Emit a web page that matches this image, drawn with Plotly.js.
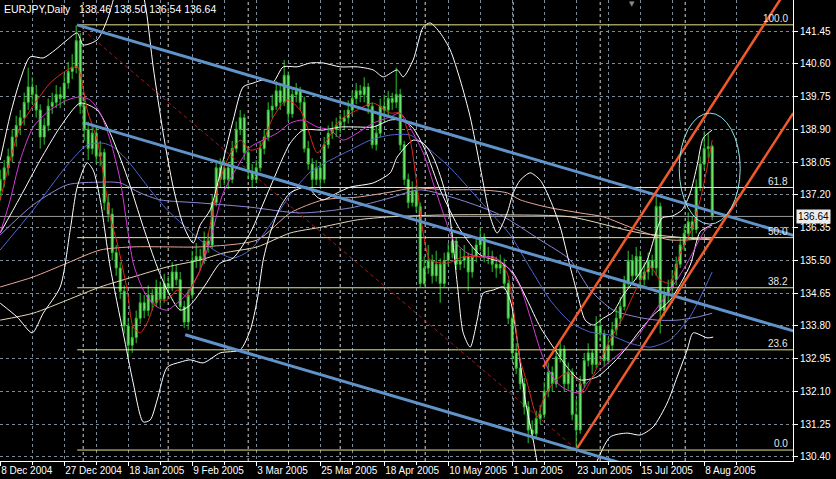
<!DOCTYPE html>
<html><head><meta charset="utf-8">
<script src="https://cdn.plot.ly/plotly-3.0.1.min.js"></script>
<style>html,body{margin:0;padding:0;background:#000;overflow:hidden}#chart{width:836px;height:479px;}</style>
</head><body><div id="chart"></div>
<script>
// ---------- data ----------
const symbolTitle = 'EURJPY,Daily';
const dateLabels = ['8 Dec 2004','27 Dec 2004','18 Jan 2005','9 Feb 2005','3 Mar 2005','25 Mar 2005','18 Apr 2005','10 May 2005','1 Jun 2005','23 Jun 2005','15 Jul 2005','8 Aug 2005'];
const dateLabelBars = [0,16,32,48,64,80,96,112,128,144,160,176];
const priceTicks = [141.45,140.60,139.75,138.90,138.05,137.20,136.35,135.50,134.65,133.80,132.95,132.10,131.25,130.40];
const monthStartBars = [20.75,42,62,85,106.25,128.25,150,171.25];

const openP = [137.30,137.60,137.90,138.20,138.70,139.00,139.20,139.60,140.00,139.80,139.40,138.70,139.00,139.50,139.60,139.80,139.70,140.10,140.40,140.50,
141.20,139.50,138.90,138.40,138.80,138.20,138.30,137.00,136.70,135.70,135.30,134.70,133.80,133.30,133.50,134.00,134.40,134.20,134.60,134.40,
134.80,134.50,134.90,134.80,135.20,135.00,134.30,133.90,134.60,135.50,135.60,135.50,136.00,135.90,137.00,137.90,137.60,137.90,137.60,138.40,
138.90,139.20,138.30,137.80,137.60,137.90,138.40,138.70,139.40,139.50,139.90,139.60,140.30,139.30,139.80,139.90,139.60,138.40,138.00,137.60,
137.90,137.60,138.50,138.80,138.90,139.00,139.10,139.20,139.40,139.70,139.90,139.80,140.00,139.50,138.50,138.80,139.50,139.40,139.70,139.60,
139.80,138.50,137.60,137.00,137.30,136.90,134.90,135.30,135.50,135.10,135.40,134.90,135.50,135.70,136.00,135.40,135.50,135.60,135.20,135.60,
135.90,136.10,135.60,135.60,135.40,135.30,135.40,134.90,134.00,133.10,132.70,132.30,131.70,131.10,131.00,131.40,131.50,132.10,132.60,132.30,
133.00,133.20,132.30,132.60,131.50,131.10,132.30,132.90,133.10,132.80,133.80,133.60,132.90,133.30,133.70,134.00,134.30,134.90,135.50,135.10,
135.60,135.00,135.20,135.50,135.30,136.90,134.20,134.60,134.80,135.00,135.40,135.90,136.20,136.50,136.30,137.40,138.00,138.40,138.46];
const highP = [137.85,138.10,138.40,138.90,139.25,139.40,139.85,140.50,140.25,140.05,139.55,139.20,139.70,139.85,140.05,140.00,140.35,140.65,140.85,141.60,
141.40,139.75,139.10,139.05,138.95,138.60,138.40,137.20,136.85,135.90,135.45,134.85,134.00,133.80,134.20,134.65,134.60,134.85,134.75,135.00,
134.95,135.15,135.10,135.45,135.40,135.20,134.45,134.75,135.75,135.95,135.80,136.25,136.20,137.20,138.10,138.15,138.10,138.05,138.60,139.10,
139.40,139.30,138.45,138.00,138.10,138.60,138.90,139.60,139.80,140.15,140.05,140.70,140.40,139.95,140.10,140.00,139.75,138.60,138.15,138.10,
138.05,138.70,139.00,139.10,139.20,139.30,139.40,139.65,139.90,140.10,140.05,140.25,140.10,139.60,139.00,139.70,139.80,139.90,139.85,140.50,
139.95,138.60,137.75,137.55,137.45,137.00,135.60,135.90,135.65,135.75,135.55,135.70,135.95,136.30,136.10,135.80,135.90,135.70,135.85,136.10,
136.35,136.20,135.85,135.75,135.60,135.65,135.55,135.00,134.10,133.35,132.95,132.45,131.85,131.35,131.60,131.75,132.35,132.85,132.75,133.25,
133.45,133.30,132.85,132.70,131.90,132.50,133.10,133.35,133.20,134.05,134.00,133.70,133.50,133.90,134.25,134.55,135.10,135.75,135.65,135.85,
135.75,135.45,135.70,135.65,137.15,137.00,134.80,135.00,135.25,135.60,136.10,136.40,136.75,136.65,137.60,138.20,138.85,138.80,138.50];
const lowP = [137.05,137.40,137.70,138.05,138.45,138.75,139.00,139.40,139.55,139.20,138.40,138.50,138.85,139.30,139.45,139.45,139.55,139.95,140.20,140.35,
139.30,138.60,138.10,138.25,138.00,137.95,136.80,136.50,135.50,135.10,134.50,133.60,132.97,133.10,133.35,133.85,134.00,134.05,134.20,134.30,
134.30,134.40,134.60,134.70,134.85,134.20,133.75,133.70,134.50,135.30,135.25,135.40,135.70,135.80,136.90,137.40,137.45,137.35,137.50,138.30,
138.75,138.10,137.60,137.40,137.50,137.80,138.25,138.60,139.20,139.40,139.40,139.50,139.10,139.20,139.60,139.40,138.30,137.85,137.30,137.45,
137.40,137.50,138.40,138.65,138.70,138.80,138.90,139.05,139.25,139.55,139.60,139.60,139.30,138.40,138.35,138.70,139.10,139.25,139.40,139.45,
138.35,137.45,136.85,136.90,136.75,134.80,134.85,135.15,134.90,134.95,134.40,134.80,135.35,135.55,135.25,135.25,135.30,134.70,135.05,135.45,
135.75,135.45,135.40,135.20,135.05,135.15,134.75,133.85,132.90,132.55,132.15,131.50,130.76,130.85,130.90,131.25,131.40,131.95,132.10,132.20,
132.85,132.10,132.15,131.35,130.58,131.00,132.20,132.75,132.55,132.70,133.40,132.75,132.80,133.15,133.55,133.85,134.20,134.80,134.90,135.00,
134.80,134.85,135.00,135.10,135.10,133.60,134.05,134.40,134.60,134.85,135.30,135.75,136.05,136.05,136.20,137.30,137.85,138.15,136.54];
const closeP = [137.60,137.90,138.20,138.70,139.00,139.20,139.60,140.00,139.80,139.40,138.70,139.00,139.50,139.60,139.80,139.70,140.10,140.40,140.50,141.20,
139.50,138.90,138.40,138.80,138.20,138.30,137.00,136.70,135.70,135.30,134.70,133.80,133.30,133.50,134.00,134.40,134.20,134.60,134.40,134.80,
134.50,134.90,134.80,135.20,135.00,134.30,133.90,134.60,135.50,135.60,135.50,136.00,135.90,137.00,137.90,137.60,137.90,137.60,138.40,138.90,
139.20,138.30,137.80,137.60,137.90,138.40,138.70,139.40,139.50,139.90,139.60,140.30,139.30,139.80,139.90,139.60,138.40,138.00,137.60,137.90,
137.60,138.50,138.80,138.90,139.00,139.10,139.20,139.40,139.70,139.90,139.80,140.00,139.50,138.50,138.80,139.50,139.40,139.70,139.60,139.80,
138.50,137.60,137.00,137.30,136.90,134.90,135.30,135.50,135.10,135.40,134.90,135.50,135.70,136.00,135.40,135.50,135.60,135.20,135.60,135.90,
136.10,135.60,135.60,135.40,135.30,135.40,134.90,134.00,133.10,132.70,132.30,131.70,131.10,131.00,131.40,131.50,132.10,132.60,132.30,133.00,
133.20,132.30,132.60,131.50,131.10,132.30,132.90,133.10,132.80,133.80,133.60,132.90,133.30,133.70,134.00,134.30,134.90,135.50,135.10,135.60,
135.00,135.20,135.50,135.30,136.90,134.20,134.60,134.80,135.00,135.40,135.90,136.20,136.50,136.30,137.40,138.00,138.40,138.45,136.64];

// indicator lines (bar position, price)
const redMaX = [0,2.5,5,9.25,12.5,16.75,19.25,20.5,21.75,24.25,25.75,27.5,29.25,31.75,33.25,35,36.75,39.25,41.75,44.25,46.75,47.5,50,52.5,54.25,56.75,60,62.5,65,68.25,71.75,75,76.75,79.25,81.75,85,89.25,93.25,97.5,100,102.5,104.25,105.75,107.5,111.75,115.75,120,124.25,126.75,128.25,130,131.75,134.25,135.75,138.25,141.75,145,145.75,149.25,152.5,155.75,159.25,162.5,165,167.5,170,172.5,175,176.75,178];
const redMaY = [137.07,138.10,138.96,139.66,140.10,140.44,140.52,140.10,139.40,138.62,137.77,136.63,135.95,134.73,133.77,133.62,133.88,134.47,134.47,134.73,134.55,134.73,135.25,136.42,137.33,138.10,138.62,138.36,138.44,139.22,139.66,139.40,138.96,138.29,138.62,139.14,139.40,139.58,139.32,139.32,138.62,137.40,136.21,135.51,135.43,135.59,135.59,135.51,135.17,134.29,132.92,132.32,131.44,131.88,132.32,132.58,132.32,132.06,132.73,133.44,134.03,134.81,135.33,134.99,134.91,135.69,136.21,137.07,137.92,138.62];
const magentaMaX = [0,2.5,5,8.25,12.5,16.75,20,22.5,25,27.5,30,31.75,33.25,35,36.75,39.25,41.75,44.25,46.75,50,52.5,55.75,59.25,62.5,65.75,69.25,72.5,75.75,79.25,82.5,85.75,89.25,93.25,97.5,100,103.25,105.75,108.25,110.75,113.25,116.75,120,123.25,126.75,130,132.5,135,136.75,139.25,141.75,145,146.75,150.75,155,159.25,163.25,167.5,171.75,175.75,178];
const magentaMaY = [136.21,137.07,138.10,138.96,139.40,139.66,139.74,139.66,139.32,138.62,137.58,136.37,135.43,134.91,134.55,134.29,134.21,134.39,134.65,135.25,136.03,137.25,137.92,138.44,138.62,138.80,139.06,139.14,138.96,138.88,138.62,138.80,139.06,139.22,139.32,138.80,138.29,137.51,136.73,136.03,135.69,135.59,135.59,135.33,134.81,134.03,133.18,132.73,132.32,132.14,132.06,132.32,132.73,133.10,133.51,134.13,134.73,135.43,136.21,136.47];
const blueMaX = [0,8.25,16.75,21.75,25.75,28.25,31.75,37.5,41.75,45.75,50,54.25,58.25,62.5,67.5,72.5,77.5,82.5,87.5,92.5,97.5,102.5,107.5,112.5,117.5,122.5,127.5,132.5,137.5,142.5,147.5,152.5,157.5,162.5,167.5,172.5,178];
const blueMaY = [135.77,136.81,137.97,138.49,138.54,138.44,138.10,137.33,136.81,136.42,136.03,135.72,135.56,135.77,136.42,137.20,137.79,138.10,138.36,138.62,138.75,138.75,138.36,137.90,137.33,136.75,136.16,135.30,134.47,133.90,133.64,133.56,133.35,133.25,133.44,134.05,135.20];
const violetMaX = [0,8.25,16.75,25,30,35,40,50,62.5,75,87.5,97.5,105,115,125,135,142.5,147.5,153.25,159.25,164.25,169.25,174.25,178];
const violetMaY = [136.16,136.94,137.46,137.53,137.51,137.25,137.07,136.99,136.88,136.73,136.86,137.12,137.33,137.07,136.68,136.03,135.51,134.73,134.21,134.03,133.95,133.95,134.03,134.13];
const pinkMaX = [0,8.25,16.75,25,33.25,41.75,50,64.25,72.5,80.75,89.25,97.5,103.25,111.75,120,126.75,130,136.75,145,150.75,159.25,167.5,178];
const pinkMaY = [134.81,135.07,135.43,135.77,135.85,135.85,135.85,136.03,136.73,137.07,137.14,137.27,137.38,137.33,137.33,137.25,137.07,136.88,136.73,136.63,136.29,136.03,136.08];
const tanMaX = [0,8.25,16.75,25,33.25,41.75,50,55.75,64.25,72.5,80.75,89.25,97.5,111.75,127.5,142.5,160,178];
const tanMaY = [133.95,134.13,134.47,134.81,135.07,135.33,135.51,135.69,135.85,136.21,136.37,136.55,136.63,136.68,136.68,136.63,136.21,136.03];

const bbUpperX = [0,2.5,5,7.5,10.75,13.75,16.75,19.25,20.75,24.25,26.75,28.25,30,33,35,36.5,38.25,40.75,43.25,45.75,48.25,50,52.5,55.75,58.25,60.75,63.25,65.75,68.25,70.75,74.25,77.5,80.75,85,89.25,93.25,95.75,99.25,100.75,103.25,105.75,107.5,110,112.5,115,117.5,120,122.5,124.25,126.75,128.25,130,132.5,135,137.5,140,142.5,144.25,146.25,148.25,150.75,153.25,155.75,159.25,161.75,163.75,165.5,168,170.5,172.5,174.25,175.75,178];
const bbUpperY = [138.10,139.27,140.18,140.78,140.75,140.96,141.22,141.40,141.09,141.22,141.74,142.25,143.03,143.42,142.77,141.99,140.52,138.80,137.40,136.42,135.95,136.42,136.81,138.10,139.14,140.00,140.10,140.18,140.13,140.52,140.52,140.62,140.62,140.52,140.52,140.44,140.26,140.44,140.26,140.70,141.55,141.66,141.40,140.96,140.18,139.22,137.92,136.63,136.21,136.73,137.25,137.58,137.77,137.58,137.07,136.37,135.33,134.65,133.95,133.82,134.00,134.16,134.60,135.07,135.51,136.16,136.60,136.65,136.81,137.25,137.97,138.67,138.88];
const bbMidX = [0,5,10,15,20,24.25,27.5,31.75,35.75,39.25,41.75,45,47.5,51.25,55,58.25,62.5,67.5,72.5,75.75,80.75,85,89.25,93.25,97.5,100,103,106.25,110,115,120,125,128.25,131.75,135,138.25,141.75,145,149.25,153.25,156.75,160,163.25,167.5,172.5,175,178];
const bbMidY = [136.21,137.14,138.10,138.96,139.58,139.40,138.80,137.66,136.37,135.33,134.73,134.21,134.34,134.86,135.43,135.56,136.21,137.40,138.54,138.88,138.88,138.96,138.96,138.96,139.14,139.14,138.96,138.36,137.33,136.29,135.64,135.46,135.17,134.47,133.77,133.25,132.73,132.40,132.48,132.84,133.25,133.69,134.08,134.47,135.38,136.24,136.42];
const bbLowerX = [0,4.25,8,10.75,15,17.5,19.25,21.75,23.25,25,27.5,30.75,33.25,35.75,37.5,39.25,41.75,45,47.5,50.75,55,60,62.5,64.25,65.75,67.5,70,72.5,76.75,79.25,80.75,84.25,87.5,93.25,97.5,99.25,103.25,105.75,108.25,111.75,114.25,115.75,117.5,119.25,120.75,123.25,125.75,127.5,129.25,131.25,133.25,135,140,145,148.75,152.5,156.75,160,163.25,166.75,169.25,171.75,173.25,176.75,178.25];
const bbLowerY = [134.39,134.03,133.62,134.13,134.81,136.29,137.40,138.03,137.84,137.07,135.33,133.62,132.32,131.31,131.36,131.88,132.73,132.86,132.92,132.84,133.10,133.18,133.69,134.47,135.51,136.21,136.88,137.25,137.40,137.14,137.07,137.25,137.40,137.51,137.77,138.18,138.62,138.54,138.18,137.07,134.91,133.62,133.25,133.95,134.65,134.73,134.81,134.47,133.44,131.88,130.84,129.93,128.77,129.29,130.19,130.92,131.02,130.97,131.18,131.80,132.48,133.18,133.62,133.49,133.51];

// drawn objects (trend channels, fibonacci, ellipse)
const channelTopX = [19.25,198.25], channelTopY = [141.61,136.15];
const channelMidX = [21.25,198.25], channelMidY = [139.06,133.67];
const channelLowX = [46.25,155], channelLowY = [133.57,130.25];
const upChanTopX = [135.75,198.25], upChanTopY = [132.73,142.79];
const upChanLowX = [144.25,198.25], upChanLowY = [130.63,139.32];
const fibBaseX = [19.25,144.25], fibBaseY = [141.61,130.58];
const fibLabels = ['0.0','23.6','38.2','50.0','61.8','100.0'];
const fibPrices = [130.58,133.18,134.79,136.09,137.39,141.61];
const fibStartBar = 19.25;
const ellipseX = [169.75,185], ellipseY = [136.44,139.32];
const shiftMarkBar = 158;

// ---------- build ----------
const bars = openP.map((_, i) => i);
const last = closeP.length - 1;
const xStart = -0.05, xEnd = 198.2;
const FONT = 'Liberation Sans, Arial, sans-serif';

function line(x, y, color, width, extra) {
  return Object.assign({type:'scatter', mode:'lines', x:x, y:y, hoverinfo:'skip',
    line:{color:color, width:width}}, extra || {});
}
function smooth(x, y, color) {
  return {type:'scatter', mode:'lines', x:x, y:y, hoverinfo:'skip',
    line:{color:color, width:1, shape:'spline', smoothing:0.7}};
}
const traces = [];
fibPrices.forEach(p => traces.push(line([fibStartBar, xEnd + 2], [p, p], '#e6e68a', 1)));
traces.push(line([xStart, xEnd + 2], [closeP[last], closeP[last]], '#9a9a9a', 1));
traces.push(line(fibBaseX, fibBaseY, '#a01818', 1, {line:{color:'#a01818', width:1, dash:'4px,3px'}}));
traces.push(smooth(tanMaX, tanMaY, '#e6d8b4'));
traces.push(smooth(pinkMaX, pinkMaY, '#e7a898'));
traces.push(smooth(violetMaX, violetMaY, '#8c86d8'));
traces.push(smooth(blueMaX, blueMaY, '#4f66d6'));
traces.push(smooth(bbUpperX, bbUpperY, '#ffffff'));
traces.push(smooth(bbMidX, bbMidY, '#ffffff'));
traces.push(smooth(bbLowerX, bbLowerY, '#ffffff'));
traces.push(smooth(magentaMaX, magentaMaY, '#d838d8'));
traces.push(smooth(redMaX, redMaY, '#e02a1a'));
traces.push({type:'candlestick', x:bars, open:openP, high:highP, low:lowP, close:closeP,
  increasing:{line:{color:'#2ec42e', width:1}, fillcolor:'#86f486'},
  decreasing:{line:{color:'#2ec42e', width:1}, fillcolor:'#86f486'},
  whiskerwidth:0, hoverinfo:'skip', showlegend:false});
traces.push(line(channelTopX, channelTopY, '#5f93c9', 3));
traces.push(line(channelMidX, channelMidY, '#5f93c9', 3));
traces.push(line(channelLowX, channelLowY, '#5f93c9', 3));
traces.push(line(upChanTopX, upChanTopY, '#f05a2a', 2.5));
traces.push(line(upChanLowX, upChanLowY, '#f05a2a', 2.5));

const shapes = monthStartBars.map(b => ({type:'line', xref:'x', yref:'paper', x0:b, x1:b, y0:0, y1:1,
  line:{color:'#d4d4d4', width:1, dash:'3px,3px'}, layer:'below'}));
shapes.push({type:'circle', xref:'x', yref:'y', x0:ellipseX[0], x1:ellipseX[1], y0:ellipseY[0], y1:ellipseY[1],
  line:{color:'#8ee6e6', width:1}, layer:'above'});

const annotations = fibLabels.map((t, k) => ({xref:'x', yref:'y', x:197.5, y:fibPrices[k], text:t,
  xanchor:'right', yanchor:'bottom', showarrow:false, yshift:-1, font:{family:FONT, size:10, color:'#e8e8e8'}}));
const nb = '\u00a0';
annotations.push({xref:'paper', yref:'paper', x:0, y:1, xanchor:'left', yanchor:'top', xshift:2, yshift:-1, showarrow:false,
  text: symbolTitle + nb+nb+nb + [openP[last], highP[last], lowP[last], closeP[last]].map(v => v.toFixed(2)).join(nb),
  font:{family:FONT, size:10.5, color:'#ffffff'}});
annotations.push({xref:'paper', yref:'y', x:1, y:closeP[last], xanchor:'left', yanchor:'middle', xshift:3, showarrow:false,
  text:closeP[last].toFixed(2), bgcolor:'#ececec', borderpad:1, font:{family:FONT, size:10, color:'#000000'}});
annotations.push({xref:'x', yref:'paper', x:shiftMarkBar, y:1, xanchor:'center', yanchor:'top', showarrow:false, yshift:2,
  text:'\u25BC', font:{family:'DejaVu Sans', size:7, color:'#8a8a8a'}});

const layout = {
  width:836, height:479, paper_bgcolor:'#000', plot_bgcolor:'#000',
  margin:{l:0, r:43, t:0, b:18, pad:0}, showlegend:false, dragmode:false,
  xaxis:{range:[xStart, xEnd], tickmode:'array', tickvals:dateLabelBars, ticktext:dateLabels,
    tickangle:0, ticks:'outside', ticklen:4, tickcolor:'#ffffff', ticklabelposition:'outside right',
    ticklabelstandoff:0,
    showline:true, linecolor:'#ffffff', linewidth:1, zeroline:false,
    showgrid:true, gridcolor:'#7d8a98', griddash:'3px,3px', gridwidth:1,
    minor:{tick0:8, dtick:16, showgrid:true, gridcolor:'#7d8a98', griddash:'3px,3px', ticks:'outside', ticklen:3, tickcolor:'#ffffff'},
    rangeslider:{visible:false}, fixedrange:true,
    tickfont:{family:FONT, size:10, color:'#ffffff'}},
  yaxis:{side:'right', range:[130.296, 142.254], tickmode:'array', tickvals:priceTicks,
    ticktext:priceTicks.map(v => v.toFixed(2)), ticks:'outside', ticklen:4, tickcolor:'#ffffff',
    showline:true, linecolor:'#ffffff', linewidth:1, zeroline:false,
    showgrid:true, gridcolor:'#7d8a98', griddash:'3px,3px', gridwidth:1, fixedrange:true,
    tickfont:{family:FONT, size:10, color:'#ffffff'}},
  shapes:shapes, annotations:annotations
};
Plotly.newPlot('chart', traces, layout, {staticPlot:true, displayModeBar:false});
</script></body></html>
